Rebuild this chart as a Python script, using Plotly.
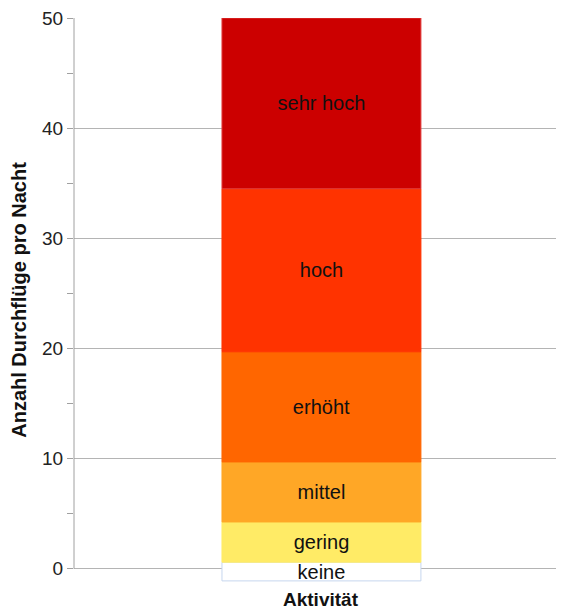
import plotly.graph_objects as go

categories = ["Aktivität"]
segment_names = ["keine", "gering", "mittel", "erhöht", "hoch", "sehr hoch"]
segment_low = [-1.1, 0.6, 4.25, 9.7, 19.7, 34.5]
segment_high = [0.6, 4.25, 9.7, 19.7, 34.5, 50.0]
segment_colors = ["#FFFFFF", "#FFEB66", "#FFA726", "#FF6600", "#FF3300", "#CC0000"]
segment_lines = ["#C6D6EE", "#FFEB66", "#FFA726", "#FF6600", "#FF3300", "#E03A3A"]
y_ticks = [0, 10, 20, 30, 40, 50]

FONT = "Liberation Sans, Arial, Helvetica, sans-serif"

fig = go.Figure()
for name, lo, hi, col, lc in zip(segment_names, segment_low, segment_high, segment_colors, segment_lines):
    fig.add_trace(go.Bar(
        x=categories, y=[hi - lo], base=[lo],
        marker=dict(color=col, line=dict(color=lc, width=1)),
        text=[name], textposition="inside", insidetextanchor="middle",
        textfont=dict(family=FONT, size=20, color="#111111"),
        width=0.406, showlegend=False, hoverinfo="skip",
    ))

fig.update_layout(
    width=556, height=601,
    margin=dict(l=66, r=0, t=8, b=27),
    plot_bgcolor="white", paper_bgcolor="white",
    barmode="overlay",
    uniformtext=dict(minsize=20, mode="show"),
    xaxis=dict(range=[-0.505, 0.495], showticklabels=False, showgrid=False,
               zeroline=False, showline=False, ticks=""),
    yaxis=dict(range=[-1.2, 50], tickvals=y_ticks, ticks="outside", ticklen=6,
               tickcolor="#A0A0A0", showgrid=True, gridcolor="#B4B4B4", gridwidth=1,
               zeroline=False, showline=False, ticklabeloverflow="allow",
               minor=dict(tickvals=[5, 15, 25, 35, 45], ticks="outside", ticklen=6,
                          tickcolor="#A0A0A0", showgrid=False),
               tickfont=dict(family=FONT, size=19, color="#222222"),
               title=dict(text="<b>Anzahl Durchflüge pro Nacht</b>", standoff=14,
                          font=dict(family=FONT, size=20, color="#111111"))),
    annotations=[dict(text="<b>Aktivität</b>", x=0, xref="x", y=0, yref="paper",
                      yanchor="top", yshift=-5, showarrow=False,
                      font=dict(family=FONT, size=19, color="#111111"))],
    shapes=[dict(type="line", xref="paper", x0=0, x1=0, yref="y", y0=0, y1=50,
                 line=dict(color="#A0A0A0", width=1))],
)

fig.write_html("out.html")
